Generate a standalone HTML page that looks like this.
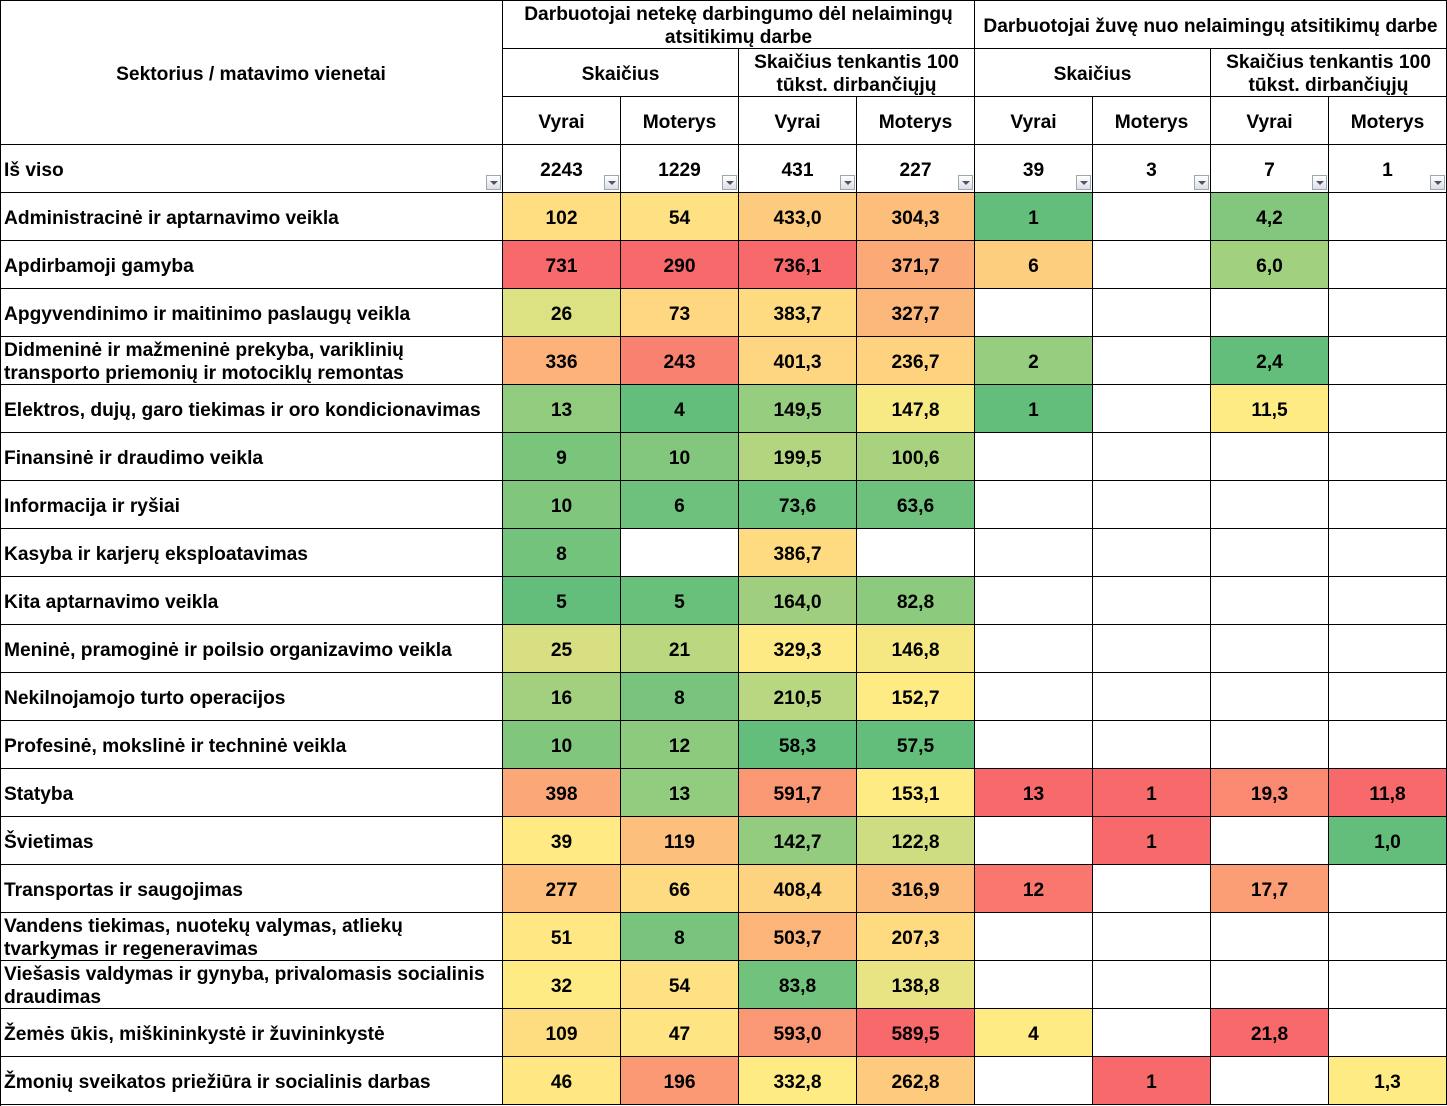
<!DOCTYPE html>
<html><head><meta charset="utf-8"><style>
body{margin:0;width:1447px;height:1105px;background:#fff;overflow:hidden;font-family:"Liberation Sans",Arial,sans-serif;font-weight:bold;font-size:19.2px;color:#000}
#t{position:relative;width:1447px;height:1105px}
.c{position:absolute;box-sizing:border-box;border-right:1px solid #000;border-bottom:1px solid #000;display:flex;align-items:center;justify-content:center;text-align:center;line-height:23px;padding-top:3px;white-space:nowrap}
.l{justify-content:flex-start;text-align:left;padding-left:4px}
.dd{position:absolute;width:15px;height:15px;box-sizing:border-box;border:1px solid #9aa;background:linear-gradient(#fff,#dde);}
.dd:after{content:"";position:absolute;left:3px;top:5px;border-left:4px solid transparent;border-right:4px solid transparent;border-top:4px solid #555}
</style></head><body>
<div id="t"></div>
<script>
const categories=["Administracinė ir aptarnavimo veikla","Apdirbamoji gamyba","Apgyvendinimo ir maitinimo paslaugų veikla","Didmeninė ir mažmeninė prekyba, variklinių<br>transporto priemonių ir motociklų remontas","Elektros, dujų, garo tiekimas ir oro kondicionavimas","Finansinė ir draudimo veikla","Informacija ir ryšiai","Kasyba ir karjerų eksploatavimas","Kita aptarnavimo veikla","Meninė, pramoginė ir poilsio organizavimo veikla","Nekilnojamojo turto operacijos","Profesinė, mokslinė ir techninė veikla","Statyba","Švietimas","Transportas ir saugojimas","Vandens tiekimas, nuotekų valymas, atliekų<br>tvarkymas ir regeneravimas","Viešasis valdymas ir gynyba, privalomasis socialinis<br>draudimas","Žemės ūkis, miškininkystė ir žuvininkystė","Žmonių sveikatos priežiūra ir socialinis darbas"];
const injuredMenCount=[102,731,26,336,13,9,10,8,5,25,16,10,398,39,277,51,32,109,46];
const injuredWomenCount=[54,290,73,243,4,10,6,null,5,21,8,12,13,119,66,8,54,47,196];
const injuredMenRate=[433.0,736.1,383.7,401.3,149.5,199.5,73.6,386.7,164.0,329.3,210.5,58.3,591.7,142.7,408.4,503.7,83.8,593.0,332.8];
const injuredWomenRate=[304.3,371.7,327.7,236.7,147.8,100.6,63.6,null,82.8,146.8,152.7,57.5,153.1,122.8,316.9,207.3,138.8,589.5,262.8];
const deadMenCount=[1,6,null,2,1,null,null,null,null,null,null,null,13,null,12,null,null,4,null];
const deadWomenCount=[null,null,null,null,null,null,null,null,null,null,null,null,1,1,null,null,null,null,1];
const deadMenRate=[4.2,6.0,null,2.4,11.5,null,null,null,null,null,null,null,19.3,null,17.7,null,null,21.8,null];
const deadWomenRate=[null,null,null,null,null,null,null,null,null,null,null,null,11.8,1.0,null,null,null,null,1.3];
const totals=["2243","1229","431","227","39","3","7","1"];
const series=[injuredMenCount,injuredWomenCount,injuredMenRate,injuredWomenRate,deadMenCount,deadWomenCount,deadMenRate,deadWomenRate];
const decimals=[0,0,1,1,0,0,1,1];
const T=document.getElementById('t');
const X=[0,503,621,739,857,975,1093,1211,1329,1447];
function cell(x,y,w,h,txt,cls,bg,name){const d=document.createElement('div');d.className='c'+(cls?' '+cls:'');d.style.left=x+'px';d.style.top=y+'px';d.style.width=w+'px';d.style.height=h+'px';if(bg)d.style.background=bg;d.innerHTML=txt;


T.appendChild(d);return d;}
function pct(a,p){const s=a.slice().sort((x,y)=>x-y);const r=p*(s.length-1);const lo=Math.floor(r),hi=Math.ceil(r);return s[lo]+(s[hi]-s[lo])*(r-lo);}
const G=[99,190,123],Y=[255,235,132],R=[248,105,107];
function mix(a,b,t){return 'rgb('+a.map((v,i)=>Math.round(v+(b[i]-v)*t)).join(',')+')';}
function color(v,arr){const vals=arr.filter(x=>x!==null);const mn=Math.min(...vals),mx=Math.max(...vals),md=pct(vals,0.5);
if(mx===mn)return mix(R,R,0);
if(v<=md)return md===mn?mix(Y,Y,0):mix(G,Y,(v-mn)/(md-mn));return mix(Y,R,(v-md)/(mx-md));}
T.style.borderTop='1px solid #000';T.style.boxSizing='border-box';
const lb=document.createElement('div');lb.style.cssText='position:absolute;left:0;top:0;width:1px;height:1105px;background:#000';T.appendChild(lb);
cell(0,0,503,144,'Sektorius / matavimo vienetai','',null,'sector-header');
cell(503,0,472,48,'Darbuotojai netekę darbingumo dėl nelaimingų<br>atsitikimų darbe','',null,'injured-header');
cell(975,0,472,48,'Darbuotojai žuvę nuo nelaimingų atsitikimų darbe','',null,'dead-header');
const sub=['Skaičius','Skaičius tenkantis 100<br>tūkst. dirbančiųjų'];
for(let i=0;i<4;i++)cell(X[1]+i*236,48,236,48,sub[i%2],'',null,i%2?'rate-subheader':'count-subheader');
for(let i=0;i<8;i++)cell(X[i+1],96,118,48,i%2?'Moterys':'Vyrai','',null,i%2?'women-header':'men-header');
cell(0,144,503,48,'Iš viso','l',null,'total-label');
for(let i=0;i<9;i++){
  if(i>0)cell(X[i],144,118,48,totals[i-1],'',null,'total-value');
  const d=document.createElement('div');d.className='dd';d.style.left=(X[i+1]-17)+'px';d.style.top='174px';
  
  
  T.appendChild(d);
}
categories.forEach((c,r)=>{const y=192+r*48;
  cell(0,y,503,48,c,'l',null,'row-label');
  series.forEach((s,j)=>{const v=s[r];
    const txt=v===null?'':v.toFixed(decimals[j]).replace('.',',');
    cell(X[j+1],y,118,48,txt,'',v===null?null:color(v,s),'heat-cell');});
});
</script></body></html>
